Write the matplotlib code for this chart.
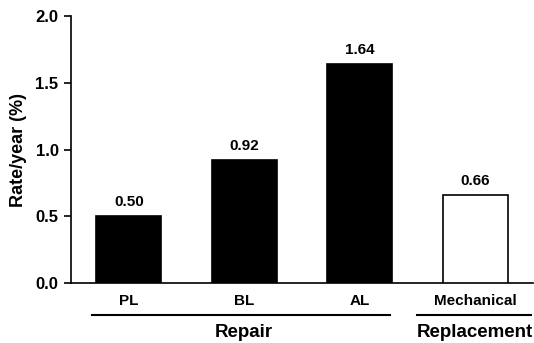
import matplotlib
matplotlib.use("Agg")
import matplotlib.pyplot as plt
import matplotlib.transforms as mtransforms

categories = ["PL", "BL", "AL", "Mechanical"]
values = [0.50, 0.92, 1.64, 0.66]
colors = ["black", "black", "black", "white"]
groups = ["Repair", "Replacement"]
group_members = [[0, 1, 2], [3]]
yticks = [0.0, 0.5, 1.0, 1.5, 2.0]

plt.rcParams['font.family'] = ['Liberation Sans', 'DejaVu Sans']
plt.rcParams['font.weight'] = 'bold'

fig = plt.figure(figsize=(5.34, 3.43), dpi=100)
ax = fig.add_axes([0.133, 0.175, 0.865, 0.778])

x = list(range(len(categories)))
ax.bar(x, values, width=0.56, color=colors, edgecolor="black", linewidth=1.2, zorder=3)
for xi, v in zip(x, values):
    ax.text(xi, v + 0.055, f"{v:.2f}", ha="center", va="bottom", fontsize=11, fontweight="bold")

ax.set_xlim(-0.5, 3.5)
ax.set_ylim(0, 2.0)
ax.set_yticks(yticks)
ax.set_yticklabels([f"{t:.1f}" for t in yticks], fontsize=12, fontweight="bold")
ax.set_xticks([])
ax.set_ylabel("Rate/year (%)", fontsize=13, fontweight="bold", labelpad=6)
ax.spines["top"].set_visible(False)
ax.spines["right"].set_visible(False)
ax.spines["left"].set_linewidth(1.2)
ax.spines["bottom"].set_linewidth(1.2)
ax.tick_params(axis="y", direction="out", length=5, width=1.2, pad=4)

trans = mtransforms.blended_transform_factory(ax.transData, ax.transAxes)
for xi, c in zip(x, categories):
    ax.text(xi, -0.068, c, transform=trans, ha="center", va="center", fontsize=11, fontweight="bold")

group_spans = [(-0.316, 2.264), (2.497, 3.48)]
for g, members, (x0, x1) in zip(groups, group_members, group_spans):
    ax.plot([x0, x1], [-0.12, -0.12], transform=trans, color="black", linewidth=1.5, clip_on=False)
    xc = sum(members) / len(members)
    ax.text(xc, -0.185, g, transform=trans, ha="center", va="center", fontsize=13.5, fontweight="bold")

fig.savefig("out.png", dpi=100)
